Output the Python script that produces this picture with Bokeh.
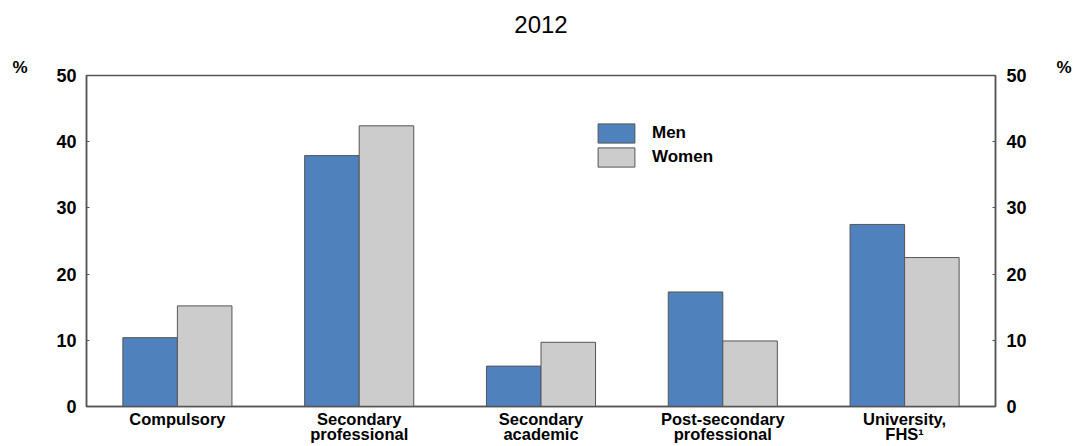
from bokeh.plotting import figure
from bokeh.models import (FactorRange, Range1d, LinearAxis, CategoricalAxis, Legend, LegendItem,
                          ColumnDataSource, FixedTicker)
from bokeh.transform import dodge
from bokeh.embed import file_html
from bokeh.resources import INLINE

categories = ["Compulsory", "Secondary\nprofessional", "Secondary\nacademic",
              "Post-secondary\nprofessional", "University,\nFHS\u00b9"]
men = [10.4, 37.9, 6.1, 17.3, 27.5]
women = [15.2, 42.4, 9.7, 9.9, 22.5]
y_ticks = [0, 10, 20, 30, 40, 50]
title_text = "2012"
unit_text = "%"

MEN_COLOR = "#4f81bd"
WOMEN_COLOR = "#cccccc"
EDGE = "#555555"
FONT = "Liberation Sans"

src = ColumnDataSource(dict(cat=categories, men=men, women=women))

p = figure(width=1074, height=446, x_range=FactorRange(factors=categories),
           y_range=Range1d(0, 50), output_backend="svg", toolbar_location=None,
           min_border_left=86, min_border_right=78, min_border_top=75, min_border_bottom=40)
p.x_range.factor_padding = 0
p.x_range.range_padding = 0
p.border_fill_color = "white"

r_men = p.vbar(x=dodge("cat", -0.15, range=p.x_range), top="men", width=0.3, source=src,
               fill_color=MEN_COLOR, line_color=EDGE, line_width=1)
r_women = p.vbar(x=dodge("cat", 0.15, range=p.x_range), top="women", width=0.3, source=src,
                 fill_color=WOMEN_COLOR, line_color=EDGE, line_width=1)

p.xgrid.visible = False
p.ygrid.visible = False
p.outline_line_color = EDGE
p.outline_line_width = 1.5

xa = p.xaxis[0]
xa.major_tick_line_color = None
xa.minor_tick_line_color = None
xa.axis_line_color = EDGE
xa.axis_line_width = 1.5
xa.major_label_text_font = FONT
xa.major_label_text_font_style = "bold"
xa.major_label_text_font_size = "16.5px"
xa.major_label_text_color = "black"
xa.major_label_standoff = -3
xa.major_label_text_line_height = 0.85

ya = p.yaxis[0]
ya.ticker = FixedTicker(ticks=y_ticks)
ra = LinearAxis(ticker=FixedTicker(ticks=y_ticks))
p.add_layout(ra, "right")
for ax, so in [(ya, 10), (ra, 11)]:
    ax.major_tick_in = 3
    ax.major_tick_out = 0
    ax.minor_tick_line_color = None
    ax.major_tick_line_color = EDGE
    ax.axis_line_color = EDGE
    ax.axis_line_width = 1.5
    ax.major_label_text_font = FONT
    ax.major_label_text_font_style = "bold"
    ax.major_label_text_font_size = "18px"
    ax.major_label_text_color = "black"
    ax.major_label_standoff = so

# unit "%" labels as extra single-tick axes (trailing blank line lifts the text)
for side, so in [("left", 20), ("right", 21)]:
    ua = LinearAxis(ticker=FixedTicker(ticks=[y_ticks[-1]]),
                    major_label_overrides={y_ticks[-1]: unit_text + "\n "})
    ua.axis_line_color = None
    ua.major_tick_line_color = None
    ua.minor_tick_line_color = None
    ua.major_label_text_font = FONT
    ua.major_label_text_font_style = "bold"
    ua.major_label_text_font_size = "17px"
    ua.major_label_text_color = "black"
    ua.major_label_text_line_height = 0.85
    ua.major_label_standoff = so
    p.add_layout(ua, side)

# title as a single-factor categorical axis above the frame
p.extra_x_ranges = {"title": FactorRange(factors=[title_text])}
ta = CategoricalAxis(x_range_name="title")
ta.axis_line_color = None
ta.major_tick_line_color = None
ta.minor_tick_line_color = None
ta.major_label_text_font = FONT
ta.major_label_text_font_size = "24px"
ta.major_label_text_color = "black"
ta.major_label_standoff = 37
p.add_layout(ta, "above")

legend = Legend(items=[LegendItem(label="Men", renderers=[r_men]),
                       LegendItem(label="Women", renderers=[r_women])],
                location=(507, 237), glyph_width=46, glyph_height=24, spacing=0,
                padding=0, margin=0, border_line_color=None, background_fill_alpha=0,
                label_text_font=FONT, label_text_font_style="bold", label_text_font_size="17px",
                label_text_color="black", label_standoff=13, label_height=24)
p.add_layout(legend, "center")

open("out.html", "w").write(file_html(p, INLINE))
